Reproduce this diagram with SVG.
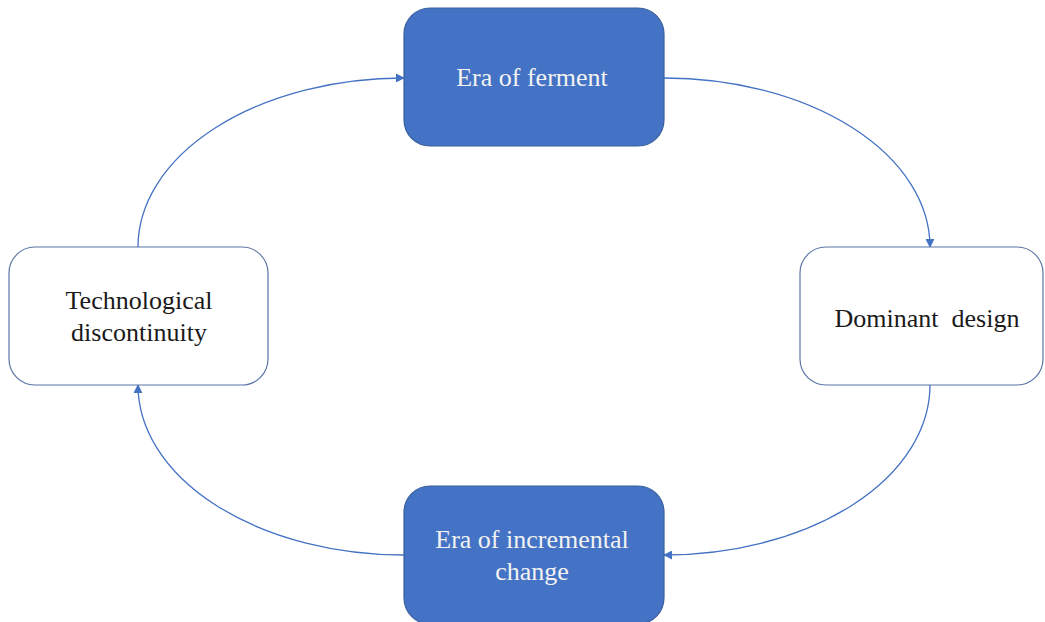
<svg xmlns="http://www.w3.org/2000/svg" width="1045" height="622" viewBox="0 0 1045 622">
<style>
.filled{fill:#4472C4;stroke:#3a5f9e;stroke-width:1.2}
.plain{fill:#ffffff;stroke:#5b75a6;stroke-width:1.2}
.lt{font-family:"Liberation Serif","Times New Roman",serif;font-size:26px;fill:#f2f2f2;text-anchor:middle}
.dt{font-family:"Liberation Serif","Times New Roman",serif;font-size:26px;fill:#1a1a1a;text-anchor:middle}
.conn{fill:none;stroke:#4472C4;stroke-width:1.3}
</style>
<defs>
<marker id="arr" viewBox="0 0 10 10" refX="9" refY="5" markerWidth="9" markerHeight="9" markerUnits="userSpaceOnUse" orient="auto">
<path d="M0,0 L10,5 L0,10 z" fill="#4472C4"/>
</marker>
</defs>
<rect width="1045" height="622" fill="#ffffff"/>
<g id="connectors">
<path class="conn" d="M664,78 A266,169 0 0 1 930,247" marker-end="url(#arr)"/>
<path class="conn" d="M930,385 A266,170 0 0 1 664,555" marker-end="url(#arr)"/>
<path class="conn" d="M404,555 A266,170 0 0 1 138,385" marker-end="url(#arr)"/>
<path class="conn" d="M138,247 A266,169 0 0 1 404,78" marker-end="url(#arr)"/>
</g>
<g id="era-of-ferment">
<rect class="filled" x="404" y="8" width="260" height="138" rx="26"/>
<text class="lt" x="532" y="86">Era of ferment</text>
</g>
<g id="dominant-design">
<rect class="plain" x="800" y="247" width="243" height="138" rx="26"/>
<text class="dt" x="927" y="327" xml:space="preserve">Dominant  design</text>
</g>
<g id="era-of-incremental-change">
<rect class="filled" x="404" y="486" width="260" height="138" rx="26"/>
<text class="lt" x="532" y="548">Era of incremental</text>
<text class="lt" x="532" y="580">change</text>
</g>
<g id="technological-discontinuity">
<rect class="plain" x="9" y="247" width="259" height="138" rx="26"/>
<text class="dt" x="139" y="309">Technological</text>
<text class="dt" x="139" y="341">discontinuity</text>
</g>
</svg>
